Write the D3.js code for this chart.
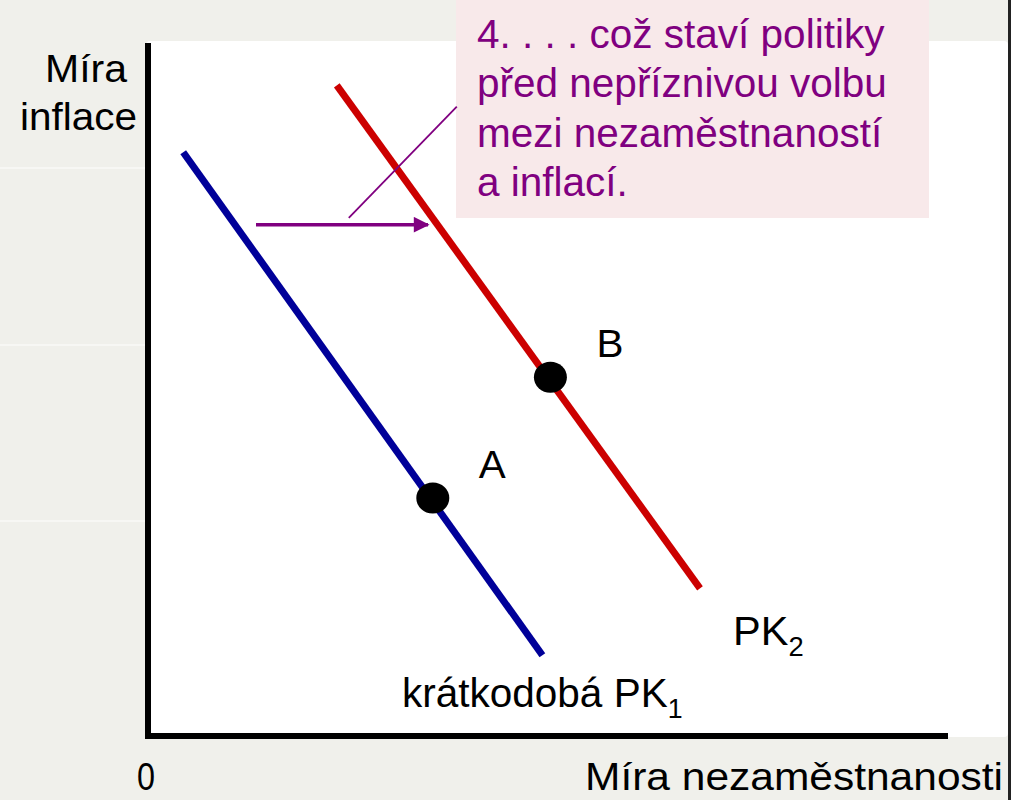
<!DOCTYPE html>
<html>
<head>
<meta charset="utf-8">
<script src="https://cdn.jsdelivr.net/npm/d3@7"></script>
<style>
  html, body { margin: 0; padding: 0; background: #f0f0eb; }
  text { font-family: "Liberation Sans", Arial, sans-serif; }
</style>
</head>
<body>
<div id="chart"></div>
<script>
let width = 1011,
    height = 800,
    margin = ({ top: 46, right: 63, bottom: 64, left: 148 });

// curves (unemployment, inflation) in chart units
const pk1 = [[0.44, 8.46], [4.93, 1.17]];
const pk2 = [[2.36, 9.43], [6.90, 2.14]];
const points = [
  { name: "A", u: 3.56, pi: 3.45 },
  { name: "B", u: 5.03, pi: 5.20 }
];
const shift = [[1.35, 7.41], [3.50, 7.41]];
const leader = [[2.51, 7.51], [3.86, 9.12]];
const noteLines = [
  "4. . . . což staví politiky",
  "před nepříznivou volbu",
  "mezi nezaměstnaností",
  "a inflací."
];

const svg = d3.select("#chart")
  .append("svg")
  .attr("width", width)
  .attr("height", height)
  .attr("viewBox", [0, 0, width, height]);

let x = d3.scaleLinear()
  .domain([0, 10])
  .range([margin.left, width - margin.right]);

let y = d3.scaleLinear()
  .domain([0, 10])
  .range([height - margin.bottom, margin.top]);

// slide background
svg.append("rect").attr("width", width).attr("height", height).attr("fill", "#f0f0eb");
svg.append("rect")
  .attr("x", 146).attr("y", 41).attr("width", 862).attr("height", 696)
  .attr("rx", 4)
  .attr("fill", "#ffffff");
svg.append("rect").attr("x", 1008).attr("y", 0).attr("width", 3).attr("height", height).attr("fill", "#222");
[168, 345, 521].forEach(yy => {
  svg.append("line")
    .attr("x1", 0).attr("x2", 146).attr("y1", yy).attr("y2", yy)
    .attr("stroke", "#fafaf7").attr("stroke-width", 1.5);
});

// axes
svg.append("line")
  .attr("x1", x(0)).attr("x2", x(0))
  .attr("y1", y(10) - 3).attr("y2", y(0) + 3)
  .attr("stroke", "#000").attr("stroke-width", 6);
svg.append("line")
  .attr("x1", x(0) - 3).attr("x2", x(10))
  .attr("y1", y(0)).attr("y2", y(0))
  .attr("stroke", "#000").attr("stroke-width", 6);

const line = d3.line().x(d => x(d[0])).y(d => y(d[1]));

svg.append("path").datum(pk1).attr("d", line)
  .attr("stroke", "#000099").attr("stroke-width", 7).attr("fill", "none");
svg.append("path").datum(pk2).attr("d", line)
  .attr("stroke", "#cc0000").attr("stroke-width", 7).attr("fill", "none");

// note box
svg.append("rect")
  .attr("x", 456).attr("y", 0).attr("width", 473).attr("height", 218)
  .attr("fill", "#f8e9ea");
svg.append("g")
  .selectAll("text")
  .data(noteLines)
  .join("text")
  .attr("x", 477)
  .attr("y", (d, i) => 48 + i * 49.3)
  .attr("fill", "#800080")
  .style("font-size", "40.5px")
  .text(d => d);

// leader + shift arrow
svg.append("path").datum(leader).attr("d", line)
  .attr("stroke", "#800080").attr("stroke-width", 1.8).attr("fill", "none");
svg.append("defs").append("marker")
  .attr("id", "head")
  .attr("viewBox", "0 0 10 10")
  .attr("refX", 9).attr("refY", 5)
  .attr("markerWidth", 5).attr("markerHeight", 4.5)
  .attr("markerUnits", "strokeWidth")
  .attr("orient", "auto")
  .append("path").attr("d", "M0,0L10,5L0,10Z").attr("fill", "#800080");
svg.append("path").datum(shift).attr("d", line)
  .attr("stroke", "#800080").attr("stroke-width", 3.5).attr("fill", "none")
  .attr("marker-end", "url(#head)");

// points
svg.append("g")
  .selectAll("ellipse")
  .data(points)
  .join("ellipse")
  .attr("cx", d => x(d.u))
  .attr("cy", d => y(d.pi))
  .attr("rx", 16.5).attr("ry", 15.5)
  .attr("fill", "#000");
svg.append("g")
  .selectAll("text")
  .data(points)
  .join("text")
  .attr("x", d => x(d.u) + 46)
  .attr("y", d => y(d.pi) - 20)
  .attr("textLength", 27)
  .attr("lengthAdjust", "spacingAndGlyphs")
  .style("font-size", "38px")
  .text(d => d.name);

// labels
const lab = (xx, yy, t, w, anchor) => svg.append("text")
  .attr("x", xx).attr("y", yy)
  .attr("text-anchor", anchor || "start")
  .attr("textLength", w)
  .attr("lengthAdjust", "spacingAndGlyphs")
  .style("font-size", "38px")
  .text(t);

lab(45, 82, "Míra", 82);
lab(20, 130, "inflace", 117);
lab(137, 790, "0", 18);
lab(585, 790, "Míra nezaměstnanosti", 418);

const sub = (xx, yy, main, s, fs) => {
  const t = svg.append("text").attr("x", xx).attr("y", yy).style("font-size", fs + "px");
  t.append("tspan").text(main);
  t.append("tspan").attr("dy", 11).style("font-size", (fs * 0.66) + "px").text(s);
};
sub(402, 707, "krátkodobá PK", "1", 40.5);
sub(733, 645, "PK", "2", 41.5);
</script>
</body>
</html>
